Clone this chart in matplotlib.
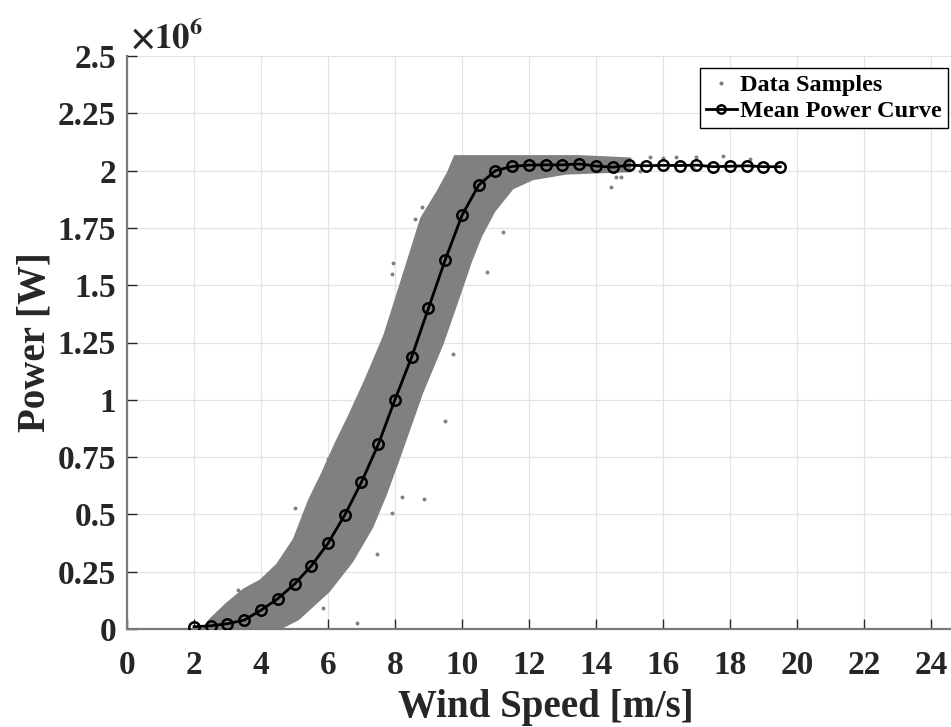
import numpy as np
import matplotlib.pyplot as plt
from matplotlib.lines import Line2D

# =============================================================================
# DATOS
# =============================================================================

# Curva de potencia media (viento en m/s, potencia en MW)
wind_mean = [2.0, 2.5, 3.0, 3.5, 4.0, 4.5, 5.0, 5.5, 6.0, 6.5, 7.0, 7.5, 8.0,
             8.5, 9.0, 9.5, 10.0, 10.5, 11.0, 11.5, 12.0, 12.5, 13.0, 13.5,
             14.0, 14.5, 15.0, 15.5, 16.0, 16.5, 17.0, 17.5, 18.0, 18.5,
             19.0, 19.5]
power_mean = [0.010, 0.014, 0.023, 0.039, 0.082, 0.132, 0.196, 0.275, 0.374,
              0.497, 0.641, 0.805, 1.001, 1.188, 1.400, 1.611, 1.805, 1.937,
              2.000, 2.018, 2.024, 2.025, 2.025, 2.029, 2.020, 2.015, 2.024,
              2.021, 2.023, 2.022, 2.024, 2.017, 2.019, 2.021, 2.017, 2.017]

# Envolvente de la nube de muestras (borde superior-izquierdo)
band_left_wind = [2.3, 2.5, 3.0, 3.5, 4.0, 4.5, 5.0, 5.45, 5.85, 6.25, 6.65,
                  7.15, 7.7, 8.2, 8.8, 9.3, 9.6, 9.8, 13.5, 15.0]
band_left_power = [0.0, 0.04, 0.11, 0.17, 0.21, 0.28, 0.39, 0.56, 0.68, 0.81,
                   0.93, 1.09, 1.28, 1.51, 1.79, 1.91, 1.99, 2.06, 2.06, 2.05]

# Envolvente de la nube de muestras (borde inferior-derecho, de arriba a abajo)
band_right_wind = [15.0, 14.0, 13.1, 12.1, 11.5, 10.95, 10.55, 10.25, 9.9,
                   9.4, 8.8, 8.1, 7.7, 7.3, 6.7, 6.0, 5.1, 4.5]
band_right_power = [2.0, 1.995, 1.99, 1.965, 1.925, 1.825, 1.715, 1.605,
                    1.455, 1.245, 1.035, 0.745, 0.585, 0.445, 0.295, 0.165,
                    0.045, 0.0]

# Muestras dispersas fuera de la nube densa
outlier_wind = [6.86, 5.01, 8.87, 8.22, 7.90, 7.45, 5.86, 7.95, 7.92, 10.76,
                11.23, 14.45, 8.80, 8.60, 9.72, 9.49, 14.60, 14.75, 17.80,
                18.60, 17.00, 16.40, 16.00, 15.60, 16.90, 15.30, 11.00, 4.30,
                3.30, 6.00]
outlier_power = [0.025, 0.53, 0.567, 0.577, 0.507, 0.327, 0.09, 1.595, 1.549,
                 1.559, 1.73, 1.93, 1.84, 1.788, 1.20, 0.909, 1.97, 1.973,
                 2.063, 2.05, 2.06, 2.06, 2.055, 2.06, 2.01, 2.0, 1.90, 0.24,
                 0.17, 0.74]

x_ticks = list(range(0, 25, 2))
y_ticks = [0, 0.25, 0.5, 0.75, 1, 1.25, 1.5, 1.75, 2, 2.25, 2.5]
y_tick_labels = ['0', '0.25', '0.5', '0.75', '1', '1.25', '1.5', '1.75', '2',
                 '2.25', '2.5']

# =============================================================================
# FIGURA
# =============================================================================

plt.rcParams['font.family'] = 'Liberation Serif'
plt.rcParams['font.weight'] = 'bold'
plt.rcParams['mathtext.fontset'] = 'stix'

GRAY = '#808080'

fig = plt.figure(figsize=(9.51, 7.27), dpi=100)
ax = fig.add_axes([127 / 951, 98 / 727, 837.5 / 951, 573 / 727])

# nube de muestras: envolvente + puntos sueltos
poly_x = band_left_wind + band_right_wind
poly_y = band_left_power + band_right_power
ax.fill(poly_x, poly_y, color=GRAY, lw=2.5, ec=GRAY, zorder=2)
ax.scatter(outlier_wind, outlier_power, s=8, color=GRAY, lw=0, zorder=2)

# curva media
ax.plot(wind_mean, power_mean, '-o', color='black', lw=2, ms=7.5,
        mfc='none', mec='black', mew=1.8, zorder=3)

ax.set_xlim(0, 25)
ax.set_ylim(0, 2.5)
ax.set_xticks(x_ticks)
ax.set_yticks(y_ticks)
ax.set_yticklabels(y_tick_labels)

ax.grid(True, color='#e3e3e3', lw=0.9)
ax.set_axisbelow(True)
for side in ['top', 'right']:
    ax.spines[side].set_visible(False)
for side in ['left', 'bottom']:
    ax.spines[side].set_color('#7a7a7a')
    ax.spines[side].set_linewidth(1.6)

ax.tick_params(direction='in', length=7, width=1, color='#262626',
               labelsize=24, labelcolor='#262626', pad=15)
ax.tick_params(axis='y', pad=8)

ax.set_xlabel('Wind Speed [m/s]', fontsize=28, fontweight='bold',
              color='#262626', labelpad=6)
ax.set_ylabel('Power [W]', fontsize=28, fontweight='bold',
              color='#262626', labelpad=3)

fig.text(130 / 951, 1 - 48 / 727, r'$\times\mathbf{10^{6}}$', fontsize=25,
         color='#262626', va='baseline', ha='left')

handles = [Line2D([], [], ls='none', marker='.', ms=4, color=GRAY),
           Line2D([], [], color='black', lw=2, marker='o', ms=6,
                  mfc='none', mew=1.8)]
leg = ax.legend(handles, ['Data Samples', 'Mean Power Curve'],
                loc='upper right', bbox_to_anchor=(0.997, 0.906),
                bbox_transform=fig.transFigure, fontsize=17.5,
                frameon=True, fancybox=False, framealpha=1,
                edgecolor='black', handlelength=1.25, handletextpad=0.15,
                borderpad=0.25, labelspacing=0.15, borderaxespad=0)
leg.get_frame().set_linewidth(1)

fig.savefig('out.png', dpi=100)
